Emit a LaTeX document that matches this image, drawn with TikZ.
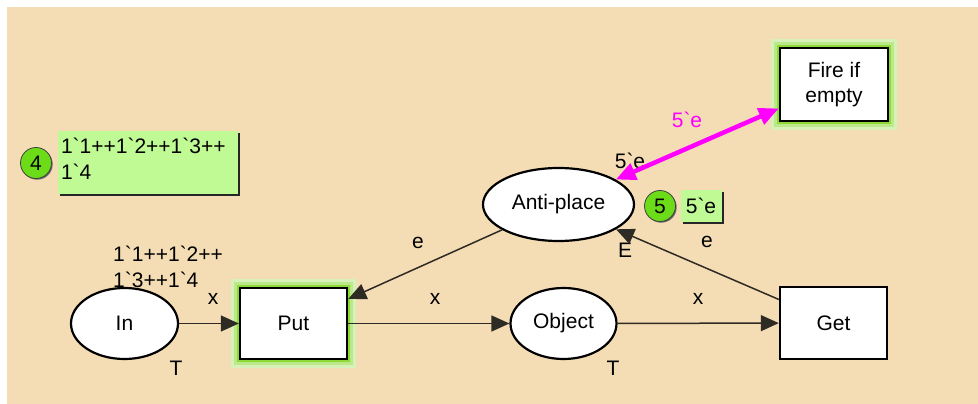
\documentclass[tikz,border=0pt]{standalone}
\usepackage{fontspec}
\newfontfamily\cpnfont{Liberation Sans}
\usepackage{tikz}
\usetikzlibrary{arrows.meta,positioning,shapes.geometric,shadows}
\usepackage{xcolor}
\definecolor{Wheat}{HTML}{F4DDB4}
\definecolor{TokGreen}{HTML}{6CDC18}
\definecolor{MarkGreen}{HTML}{C0FA94}
\definecolor{Glow}{HTML}{8ED838}
\definecolor{Fuchsia}{HTML}{FF00FF}
\definecolor{ArcGray}{HTML}{2E2A24}
\tikzset{
  place/.style={ellipse,draw,line width=2.2pt,fill=white,inner sep=0pt},
  trans/.style={rectangle,draw,line width=2.4pt,fill=white,inner sep=0pt},
  glow/.style={preaction={draw=Glow!35,line width=18pt},preaction={draw=Glow!60,line width=12pt},
    preaction={draw=Glow,line width=6pt}},
  token/.style={circle,fill=TokGreen,draw=black!75,line width=0.8pt,minimum size=31pt,inner sep=0pt,
    drop shadow={shadow xshift=1.2pt,shadow yshift=-1.2pt,fill=black!60,opacity=1}},
  marking/.style={fill=MarkGreen,inner sep=2pt,
    drop shadow={shadow xshift=2pt,shadow yshift=-2pt,fill=black!85,opacity=1}},
  arc/.style={draw=ArcGray,line width=1.5pt,-{Triangle[length=18pt,width=16pt]}},
  fuse/.style={draw=Fuchsia,line width=4.5pt,{Triangle[length=20pt,width=17pt]}-{Triangle[length=20pt,width=17pt]}},
}
\begin{document}
\begin{tikzpicture}[x=1pt,y=-1pt,every node/.style={font=\cpnfont\fontsize{21}{26}\selectfont}]
  \useasboundingbox (0,0) rectangle (978,404);
  \fill[Wheat] (7,7) rectangle (978,404);
  % places and transitions
  \node (in) [place,minimum width=107pt,minimum height=71pt] at (124.5,323.5) {In};
  \node (put) [trans,glow,minimum width=107pt,minimum height=71pt] at (293.5,323.5) {Put};
  \node (obj) [place,minimum width=106pt,minimum height=71pt] at (563.5,323.5) {Object};
  \node (get) [trans,minimum width=107pt,minimum height=72pt] at (833.5,323) {Get};
  \node (anti) [place,minimum width=151pt,minimum height=73pt] at (558.5,204.5) {Anti-place};
  \node (fire) [trans,glow,minimum width=108pt,minimum height=73pt,align=center,font=\cpnfont\fontsize{21}{25}\selectfont] at (834,84.5) {Fire if\\empty};
  % tokens and markings
  \node (tok4) [token] at (36,163) {4};
  \node (mk4) [marking,minimum width=180pt,minimum height=63pt,text width=174pt,align=left,text depth=34pt] at (148,162.5) {1`1++1`2++1`3++\\1`4};
  \node (tok5) [token] at (660,206) {5};
  \node (mk5) [marking,minimum width=41pt,minimum height=32pt] at (701,206) {5`e};
  % inscriptions
  \node (init) [anchor=west,align=left,inner sep=0pt] at (113,266.5) {1`1++1`2++\\1`3++1`4};
  \foreach \n/\px in {xin/213,xput/435,xobj/698}{\node (\n) at (\px,299) {x};}
  \node (tin) at (176,368) {T};
  \node (tobj) at (613,368) {T};
  \node (eput) at (418,243) {e};
  \node (eget) at (707,242) {e};
  \node (cset) at (625,250) {E};
  \node (fuse5) at (630,161) {5`e};
  \node (fire5) [text=Fuchsia] at (687,120) {5`e};
  % arcs
  \draw[arc] (in) -- (put);
  \draw[arc] (put) -- (obj);
  \draw[arc] (obj) -- (get);
  \draw[arc] (anti) -- (put);
  \draw[arc] (get) -- (anti);
  \draw[fuse] (anti) -- (fire);
\end{tikzpicture}
\end{document}
